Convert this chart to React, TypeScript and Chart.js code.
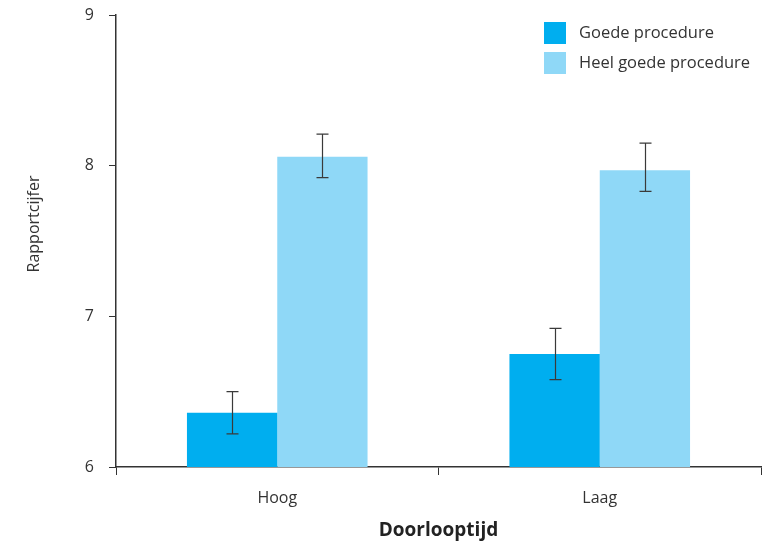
import React, { useEffect, useRef } from "react";
import { Chart, registerables } from "chart.js";

Chart.register(...registerables);

const categories = ["Hoog", "Laag"];
const seriesNames = ["Goede procedure", "Heel goede procedure"];
const goede = [6.36, 6.75];
const goedeLow = [6.22, 6.58];
const goedeHigh = [6.5, 6.92];
const heel = [8.06, 7.97];
const heelLow = [7.92, 7.83];
const heelHigh = [8.21, 8.15];
const yTicks = [6, 7, 8, 9];
const yTitle = "Rapportcijfer";
const xTitle = "Doorlooptijd";

const colors = ["#00AEEF", "#8FD8F7"];
const FONT = "'Open Sans', 'Noto Sans', sans-serif";
const TEXT = "#333333";
const AXIS = "#333333";

const errorLows = [goedeLow, heelLow];
const errorHighs = [goedeHigh, heelHigh];

const extrasPlugin = {
  id: "extras",
  afterDatasetsDraw(chart: any) {
    const ctx = chart.ctx;
    const y = chart.scales.y;
    ctx.save();
    ctx.strokeStyle = "#3a3a3a";
    ctx.lineWidth = 1.2;
    chart.data.datasets.forEach((ds: any, di: number) => {
      const meta = chart.getDatasetMeta(di);
      meta.data.forEach((bar: any, i: number) => {
        const x = Math.round(bar.x) + 0.5;
        const yt = y.getPixelForValue(errorHighs[di][i]);
        const yb = y.getPixelForValue(errorLows[di][i]);
        ctx.beginPath();
        ctx.moveTo(x, yt);
        ctx.lineTo(x, yb);
        ctx.moveTo(x - 6, yt);
        ctx.lineTo(x + 6, yt);
        ctx.moveTo(x - 6, yb);
        ctx.lineTo(x + 6, yb);
        ctx.stroke();
      });
    });
    ctx.restore();
  },
  afterDraw(chart: any) {
    const ctx = chart.ctx;
    const area = chart.chartArea;
    ctx.save();
    // legend
    ctx.font = `16.5px ${FONT}`;
    ctx.textBaseline = "middle";
    ctx.textAlign = "left";
    chart.data.datasets.forEach((ds: any, di: number) => {
      const top = 22 + di * 30;
      ctx.fillStyle = ds.backgroundColor;
      ctx.fillRect(544, top, 22, 22);
      ctx.fillStyle = TEXT;
      ctx.fillText(ds.label, 579, top + 11);
    });
    // y title
    ctx.save();
    ctx.translate(34, 224);
    ctx.rotate(-Math.PI / 2);
    ctx.textAlign = "center";
    ctx.textBaseline = "middle";
    ctx.font = `16px ${FONT}`;
    ctx.fillStyle = TEXT;
    ctx.fillText(yTitle, 0, 0);
    ctx.restore();
    // x title
    ctx.textAlign = "center";
    ctx.textBaseline = "alphabetic";
    ctx.font = `bold 19px ${FONT}`;
    ctx.fillStyle = "#222222";
    ctx.fillText(xTitle, (area.left + area.right) / 2, 536);
    ctx.restore();
  },
};

export default function App() {
  const ref = useRef<HTMLCanvasElement>(null);
  useEffect(() => {
    if (!ref.current) return;
    const chart = new Chart(ref.current, {
      type: "bar",
      data: {
        labels: categories,
        datasets: [
          { label: seriesNames[0], data: goede, backgroundColor: colors[0], borderWidth: 0 },
          { label: seriesNames[1], data: heel, backgroundColor: colors[1], borderWidth: 0 },
        ],
      },
      options: {
        responsive: false,
        animation: false,
        devicePixelRatio: 1,
        layout: { padding: { top: 15, right: 2, left: 0, bottom: 0 } },
        plugins: { legend: { display: false }, tooltip: { enabled: false } },
        datasets: { bar: { categoryPercentage: 0.56, barPercentage: 1 } },
        scales: {
          x: {
            grid: {
              display: true,
              drawOnChartArea: false,
              drawTicks: true,
              tickLength: 8,
              color: AXIS,
              offset: true,
            },
            border: { display: true, color: AXIS, width: 1.5 },
            ticks: { color: TEXT, font: { family: FONT, size: 16 }, padding: 14 },
            afterFit: (s: any) => {
              s.height = 77;
              s.paddingLeft = 0;
              s.paddingRight = 0;
            },
          },
          y: {
            min: 6,
            max: 9,
            afterBuildTicks: (s: any) => {
              s.ticks = yTicks.map((v) => ({ value: v }));
            },
            grid: {
              display: true,
              drawOnChartArea: false,
              drawTicks: true,
              tickLength: 7,
              color: AXIS,
            },
            border: { display: true, color: AXIS, width: 1.5 },
            ticks: { color: TEXT, font: { family: FONT, size: 16 }, padding: 15 },
            afterFit: (s: any) => {
              s.width = 116;
              s.paddingTop = 0;
              s.paddingBottom = 0;
            },
          },
        },
      },
      plugins: [extrasPlugin],
    });
    return () => chart.destroy();
  }, []);
  return (
    <div style={{ position: "fixed", left: 0, top: 0, width: 763, height: 544, background: "#fff" }}>
      <canvas ref={ref} width={763} height={544} style={{ width: 763, height: 544, display: "block" }} />
    </div>
  );
}
